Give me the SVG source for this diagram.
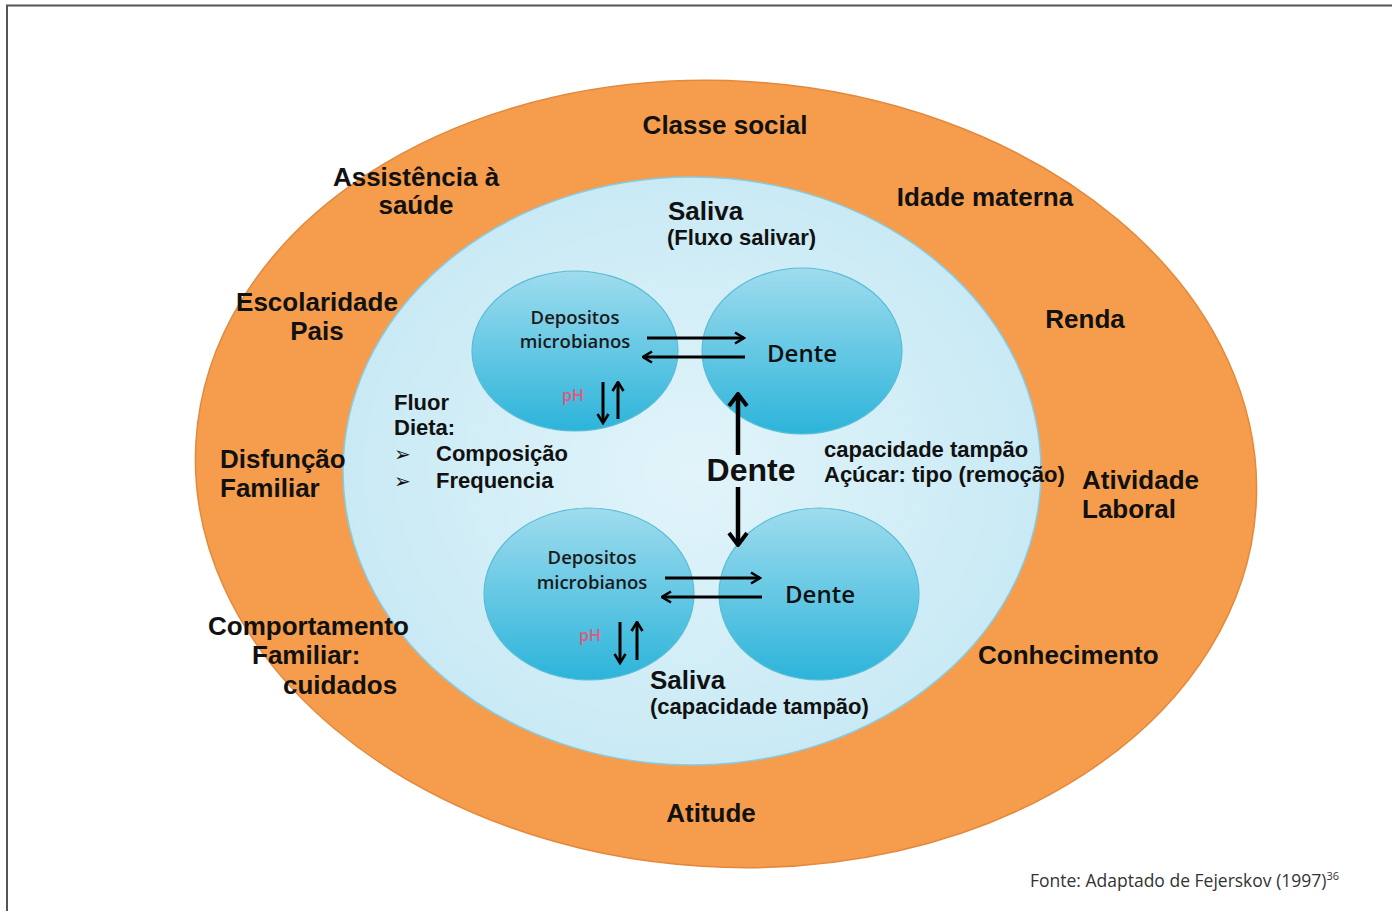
<svg xmlns="http://www.w3.org/2000/svg" width="1392" height="911" viewBox="0 0 1392 911">
<style>
.ring{font-family:"Liberation Sans",Arial,sans-serif;font-weight:bold;font-size:26px;fill:#111}
.in{font-family:"Liberation Sans",Arial,sans-serif;font-weight:bold;font-size:22px;fill:#111}
.cir{font-family:"Open Sans","Noto Sans",sans-serif;font-weight:600;font-size:18.5px;fill:#1a1a1a}
.dente{font-family:"Open Sans","Noto Sans",sans-serif;font-weight:600;font-size:24px;fill:#111}
.ph{font-family:"Open Sans","Noto Sans",sans-serif;font-size:16px;font-weight:600;fill:#e0587a}
.bul{font-family:"DejaVu Sans",sans-serif;font-size:20px;fill:#111}
.foot{font-family:"Open Sans","Noto Sans",sans-serif;font-size:17.5px;fill:#333}
.arr{stroke:#000;stroke-width:3;fill:none;marker-end:url(#ah)}
.big{stroke:#000;stroke-width:4.5;fill:none;marker-end:url(#bh)}
.small{stroke:#5bbcd6;stroke-width:1.2;fill:url(#cg)}
</style>
<defs>
<linearGradient id="cg" x1="0" y1="0" x2="0" y2="1">
<stop offset="0" stop-color="#9fdcee"/>
<stop offset="1" stop-color="#2cb4da"/>
</linearGradient>
<radialGradient id="ig" cx="0.5" cy="0.5" r="0.5">
<stop offset="0" stop-color="#e2f4fa"/>
<stop offset="1" stop-color="#c9eaf5"/>
</radialGradient>
<marker id="ah" viewBox="0 0 12 14" refX="10.5" refY="7" markerWidth="12" markerHeight="14" markerUnits="userSpaceOnUse" orient="auto">
<path d="M1.5,1.5 L10.5,7 L1.5,12.5" fill="none" stroke="#000" stroke-width="2.6"/>
</marker>
<marker id="bh" viewBox="0 0 16 22" refX="14" refY="11" markerWidth="16" markerHeight="22" markerUnits="userSpaceOnUse" orient="auto">
<path d="M2,2 L14,11 L2,20" fill="none" stroke="#000" stroke-width="4"/>
</marker>
</defs>
<rect width="1392" height="911" fill="#fff"/>
<path d="M7,911 V5.5 H1392" fill="none" stroke="#555" stroke-width="2"/>
<g id="outer"><ellipse cx="726" cy="474" rx="531" ry="393" transform="rotate(3.5 726 474)" fill="#f59d4c" stroke="#e4883a" stroke-width="1.5"/></g>
<g id="inner"><ellipse cx="692" cy="471" rx="349" ry="294" fill="url(#ig)" stroke="#86cce3" stroke-width="1.5"/></g>
<g id="ring-labels">
<text class="ring" x="725" y="134" text-anchor="middle">Classe social</text>
<text class="ring" x="416" y="186" text-anchor="middle">Assistência à</text>
<text class="ring" x="416" y="214" text-anchor="middle">saúde</text>
<text class="ring" x="985" y="206" text-anchor="middle">Idade materna</text>
<text class="ring" x="317" y="311" text-anchor="middle">Escolaridade</text>
<text class="ring" x="317" y="340" text-anchor="middle">Pais</text>
<text class="ring" x="1085" y="328" text-anchor="middle">Renda</text>
<text class="ring" x="220" y="468">Disfunção</text>
<text class="ring" x="220" y="497">Familiar</text>
<text class="ring" x="1082" y="489">Atividade</text>
<text class="ring" x="1082" y="518">Laboral</text>
<text class="ring" x="208" y="635">Comportamento</text>
<text class="ring" x="252" y="664">Familiar:</text>
<text class="ring" x="283" y="694">cuidados</text>
<text class="ring" x="978" y="664">Conhecimento</text>
<text class="ring" x="711" y="822" text-anchor="middle">Atitude</text>
</g>
<g id="inner-labels">
<text class="ring" x="668" y="220">Saliva</text>
<text class="in" x="667" y="245">(Fluxo salivar)</text>
<text class="in" x="394" y="410">Fluor</text>
<text class="in" x="394" y="435">Dieta:</text>
<text class="bul" x="394" y="461">➢</text>
<text class="in" x="436" y="461">Composição</text>
<text class="bul" x="394" y="488">➢</text>
<text class="in" x="436" y="488">Frequencia</text>
<text class="in" x="824" y="457">capacidade tampão</text>
<text class="in" x="824" y="482">Açúcar: tipo (remoção)</text>
<text class="ring" x="650" y="689">Saliva</text>
<text class="in" x="650" y="714">(capacidade tampão)</text>
</g>
<g id="dep-top">
<ellipse class="small" cx="575" cy="351" rx="103" ry="80"/>
<text class="cir" x="575" y="324" text-anchor="middle">Depositos</text>
<text class="cir" x="575" y="348" text-anchor="middle">microbianos</text>
<text class="ph" x="562" y="401">pH</text>
</g>
<g id="dente-top">
<ellipse class="small" cx="802" cy="351" rx="100" ry="83"/>
<text class="dente" x="802" y="362" text-anchor="middle">Dente</text>
</g>
<g id="dep-bottom">
<ellipse class="small" cx="589" cy="594" rx="105" ry="86"/>
<text class="cir" x="592" y="564" text-anchor="middle">Depositos</text>
<text class="cir" x="592" y="589" text-anchor="middle">microbianos</text>
<text class="ph" x="579" y="641">pH</text>
</g>
<g id="dente-bottom">
<ellipse class="small" cx="819" cy="594" rx="100" ry="86"/>
<text class="dente" x="820" y="603" text-anchor="middle">Dente</text>
</g>
<g id="dente-center">
<text x="751" y="481" text-anchor="middle" style="font-family:'Liberation Sans',Arial,sans-serif;font-weight:bold;font-size:32px;fill:#111">Dente</text>
</g>
<g id="connectors">
<line class="arr" x1="647" y1="338" x2="744" y2="338"/>
<line class="arr" x1="745" y1="357" x2="643" y2="357"/>
<line class="arr" x1="603" y1="382" x2="603" y2="423"/>
<line class="arr" x1="618" y1="419" x2="618" y2="382"/>
<line class="arr" x1="665" y1="578" x2="760" y2="578"/>
<line class="arr" x1="762" y1="597" x2="662" y2="597"/>
<line class="arr" x1="620" y1="622" x2="620" y2="663"/>
<line class="arr" x1="637" y1="660" x2="637" y2="622"/>
<line class="big" x1="738" y1="455" x2="738" y2="394"/>
<line class="big" x1="738" y1="487" x2="738" y2="545"/>
</g>
<g id="footer">
<text class="foot" x="1030" y="887">Fonte: Adaptado de Fejerskov (1997)<tspan font-size="11" dy="-7">36</tspan></text>
</g>
</svg>
